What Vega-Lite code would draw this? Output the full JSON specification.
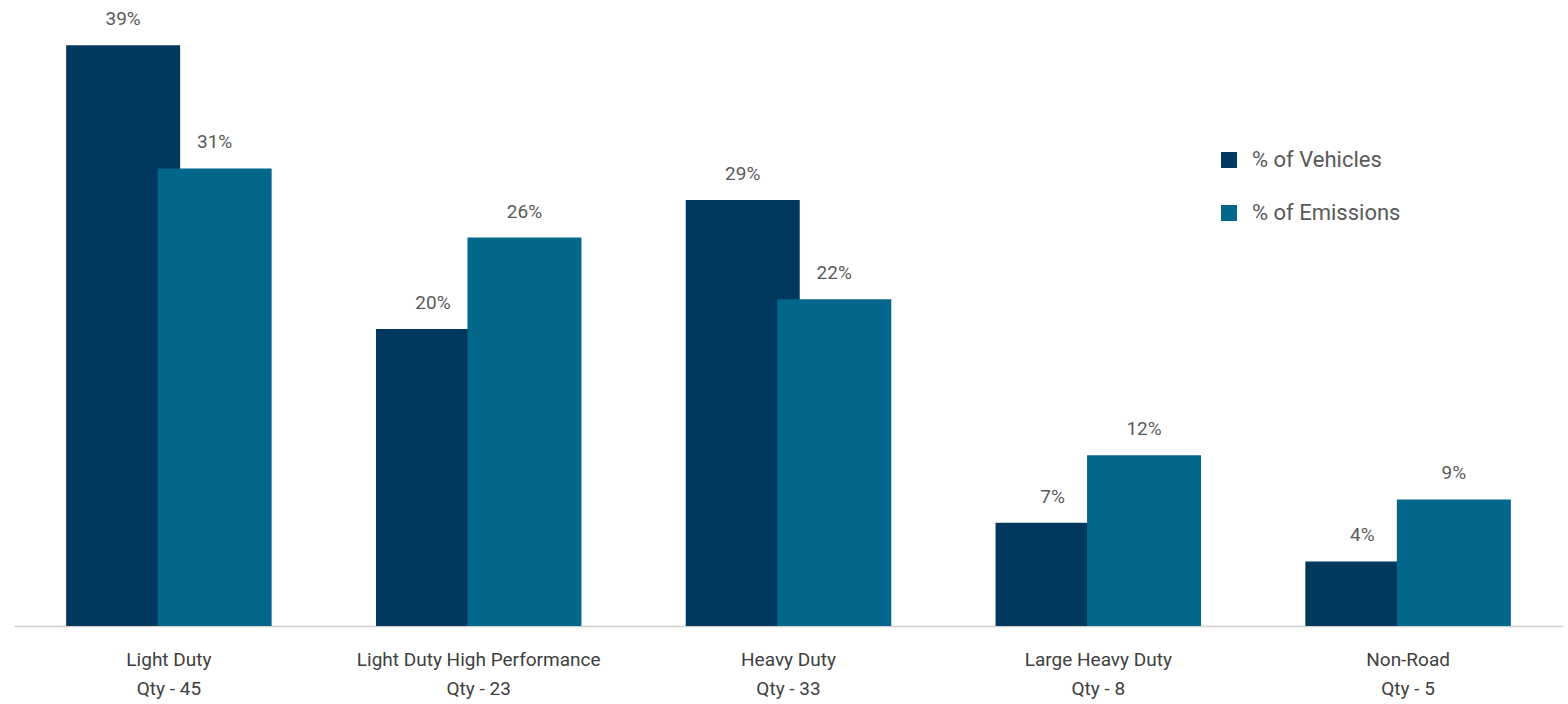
{
  "$schema": "https://vega.github.io/schema/vega-lite/v6.json",
  "width": 1549,
  "height": 618,
  "padding": {"left": 14, "top": 8, "right": 5, "bottom": 78},
  "autosize": {"type": "none"},
  "background": "white",
  "config": {
    "view": {"stroke": null},
    "font": "Roboto"
  },
  "data": {
    "values": [
      {"category": "Light Duty|Qty - 45", "series": "% of Vehicles", "value": 0.3947},
      {"category": "Light Duty High Performance|Qty - 23", "series": "% of Vehicles", "value": 0.2018},
      {"category": "Heavy Duty|Qty - 33", "series": "% of Vehicles", "value": 0.2895},
      {"category": "Large Heavy Duty|Qty - 8", "series": "% of Vehicles", "value": 0.0702},
      {"category": "Non-Road|Qty - 5", "series": "% of Vehicles", "value": 0.0439},
      {"category": "Light Duty|Qty - 45", "series": "% of Emissions", "value": 0.311},
      {"category": "Light Duty High Performance|Qty - 23", "series": "% of Emissions", "value": 0.264},
      {"category": "Heavy Duty|Qty - 33", "series": "% of Emissions", "value": 0.222},
      {"category": "Large Heavy Duty|Qty - 8", "series": "% of Emissions", "value": 0.116},
      {"category": "Non-Road|Qty - 5", "series": "% of Emissions", "value": 0.086}
    ]
  },
  "encoding": {
    "x": {
      "field": "category",
      "type": "nominal",
      "sort": null,
      "title": null,
      "scale": {"paddingInner": 0, "paddingOuter": 0},
      "axis": {
        "labelAngle": 0,
        "labelExpr": "split(datum.label, '|')",
        "labelFontSize": 19,
        "labelColor": "#404040",
        "labelLineHeight": 29,
        "labelPadding": 24,
        "labelLimit": 0,
        "ticks": false,
        "domainColor": "#d0d0d0",
        "domainWidth": 1.5,
        "labelFont": "Roboto"
      }
    },
    "y": {
      "field": "value",
      "type": "quantitative",
      "scale": {"domain": [0, 0.42], "nice": false},
      "axis": null
    }
  },
  "layer": [
    {
      "transform": [{"filter": "datum.series === '% of Vehicles'"}],
      "mark": {"type": "bar", "width": 114, "xOffset": -45.75},
      "encoding": {
        "color": {
          "field": "series",
          "type": "nominal",
          "scale": {"domain": ["% of Vehicles", "% of Emissions"], "range": ["#01385E", "#02678A"]},
          "legend": {
            "title": null,
            "orient": "none",
            "legendX": 1204,
            "legendY": 141,
            "symbolType": "square",
            "symbolSize": 256,
            "symbolStrokeWidth": 0,
            "labelFontSize": 22,
            "labelFont": "Roboto",
            "labelColor": "#595959",
            "labelOffset": 12,
            "rowPadding": 31,
            "padding": 0
          }
        }
      }
    },
    {
      "transform": [{"filter": "datum.series === '% of Emissions'"}],
      "mark": {"type": "bar", "width": 114, "xOffset": 45.75},
      "encoding": {
        "color": {"field": "series", "type": "nominal"}
      }
    },
    {
      "transform": [{"filter": "datum.series === '% of Vehicles'"}],
      "mark": {"type": "text", "xOffset": -45.75, "dy": -16, "baseline": "bottom", "fontSize": 19, "color": "#595959"},
      "encoding": {
        "text": {"field": "value", "type": "quantitative", "format": ".0%"}
      }
    },
    {
      "transform": [{"filter": "datum.series === '% of Emissions'"}],
      "mark": {"type": "text", "xOffset": 45.75, "dy": -16, "baseline": "bottom", "fontSize": 19, "color": "#595959"},
      "encoding": {
        "text": {"field": "value", "type": "quantitative", "format": ".0%"}
      }
    }
  ]
}
